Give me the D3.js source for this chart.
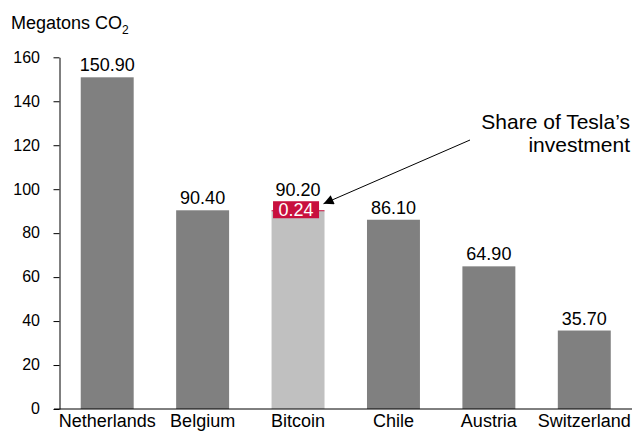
<!DOCTYPE html>
<html>
<head>
<meta charset="utf-8">
<script src="https://cdn.jsdelivr.net/npm/d3@7"></script>
<style>
  html, body { margin: 0; padding: 0; background: #fff; }
  svg { display: block; font-family: "Liberation Sans", Arial, sans-serif; }
</style>
</head>
<body>
<svg id="chart" width="632" height="432"></svg>
<script>
const categories = ["Netherlands", "Belgium", "Bitcoin", "Chile", "Austria", "Switzerland"];
const values = [150.90, 90.40, 90.20, 86.10, 64.90, 35.70];
const teslaShare = 0.24;
const highlightCategory = "Bitcoin";
const yTicks = [0, 20, 40, 60, 80, 100, 120, 140, 160];
const yTitle = "Megatons CO";
const yTitleSub = "2";
const annotationLines = ["Share of Tesla\u2019s", "investment"];

const svg = d3.select("#chart");

const x = d3.scaleBand().domain(categories).range([59.5, 632])
  .paddingInner(0.445).paddingOuter(0.2225);
const y = d3.scaleLinear().domain([0, 160]).range([409, 57.3]);

// Y axis
const yAxis = d3.axisLeft(y).tickValues(yTicks).tickSize(6).tickSizeOuter(0).tickPadding(13.5)
  .tickFormat(d3.format("d"));
const gy = svg.append("g").attr("transform", "translate(59.5,0)").call(yAxis);
gy.select(".domain").attr("stroke", "#000").attr("stroke-width", 1);
gy.selectAll(".tick line").attr("stroke", "#000");
gy.selectAll(".tick text").attr("font-size", 16).attr("fill", "#000")
  .attr("font-family", "Liberation Sans, Arial, sans-serif").attr("dy", "0.3em");

// Y title
const title = svg.append("text").attr("x", 11).attr("y", 28.5)
  .attr("font-size", 18).attr("fill", "#000");
title.append("tspan").text(yTitle);
title.append("tspan").text(yTitleSub).attr("font-size", 12).attr("dy", 5);

// Bars
svg.append("g").selectAll("rect").data(categories).join("rect")
  .attr("x", d => x(d))
  .attr("width", x.bandwidth())
  .attr("y", (d, i) => y(values[i]))
  .attr("height", (d, i) => y(0) - y(values[i]))
  .attr("fill", d => d === highlightCategory ? "#c0c0c0" : "#808080");

// Baseline
svg.append("line").attr("x1", 54).attr("x2", x.range()[1])
  .attr("y1", y(0)).attr("y2", y(0)).attr("stroke", "#000").attr("stroke-width", 1);

// Tesla share slice on top of Bitcoin bar
const hi = categories.indexOf(highlightCategory);
const hv = values[hi];
svg.append("rect")
  .attr("x", x(highlightCategory))
  .attr("width", x.bandwidth())
  .attr("y", y(hv) - 0.5)
  .attr("height", Math.max(1, y(hv - teslaShare) - y(hv)))
  .attr("fill", "#c8103e");

// Red label box for share
const boxW = 46, boxH = 17;
const cx = x(highlightCategory) + x.bandwidth() / 2 - 2;
const boxTop = y(hv) - 9.5;
svg.append("rect").attr("x", cx - boxW / 2).attr("y", boxTop)
  .attr("width", boxW).attr("height", boxH).attr("fill", "#c8103e");
svg.append("text").attr("x", cx).attr("y", boxTop + boxH - 2)
  .attr("text-anchor", "middle").attr("font-size", 18).attr("fill", "#fff")
  .text(teslaShare.toFixed(2));

// Value labels
svg.append("g").selectAll("text").data(categories).join("text")
  .attr("x", d => x(d) + x.bandwidth() / 2)
  .attr("y", (d, i) => d === highlightCategory ? boxTop - 5 : y(values[i]) - 6)
  .attr("text-anchor", "middle")
  .attr("font-size", 18).attr("fill", "#000")
  .text((d, i) => values[i].toFixed(2));

// Category labels
svg.append("g").selectAll("text").data(categories).join("text")
  .attr("x", d => x(d) + x.bandwidth() / 2)
  .attr("y", 427)
  .attr("text-anchor", "middle")
  .attr("font-size", 18).attr("fill", "#000")
  .text(d => d);

// Annotation
svg.append("defs").append("marker")
  .attr("id", "arrow").attr("viewBox", "0 0 10 10")
  .attr("refX", 10).attr("refY", 5)
  .attr("markerWidth", 15).attr("markerHeight", 10)
  .attr("markerUnits", "userSpaceOnUse")
  .attr("orient", "auto")
  .append("path").attr("d", "M0,0 L10,5 L0,10 Z").attr("fill", "#000");

const tipX = x(highlightCategory) + x.bandwidth() - 1;
svg.append("line")
  .attr("x1", 470).attr("y1", 140)
  .attr("x2", tipX).attr("y2", y(hv) - 7)
  .attr("stroke", "#000").attr("stroke-width", 1)
  .attr("marker-end", "url(#arrow)");

svg.append("g").selectAll("text").data(annotationLines).join("text")
  .attr("x", 630).attr("y", (d, i) => 128.5 + i * 23.5)
  .attr("text-anchor", "end").attr("font-size", 21).attr("fill", "#000")
  .text(d => d);
</script>
</body>
</html>
